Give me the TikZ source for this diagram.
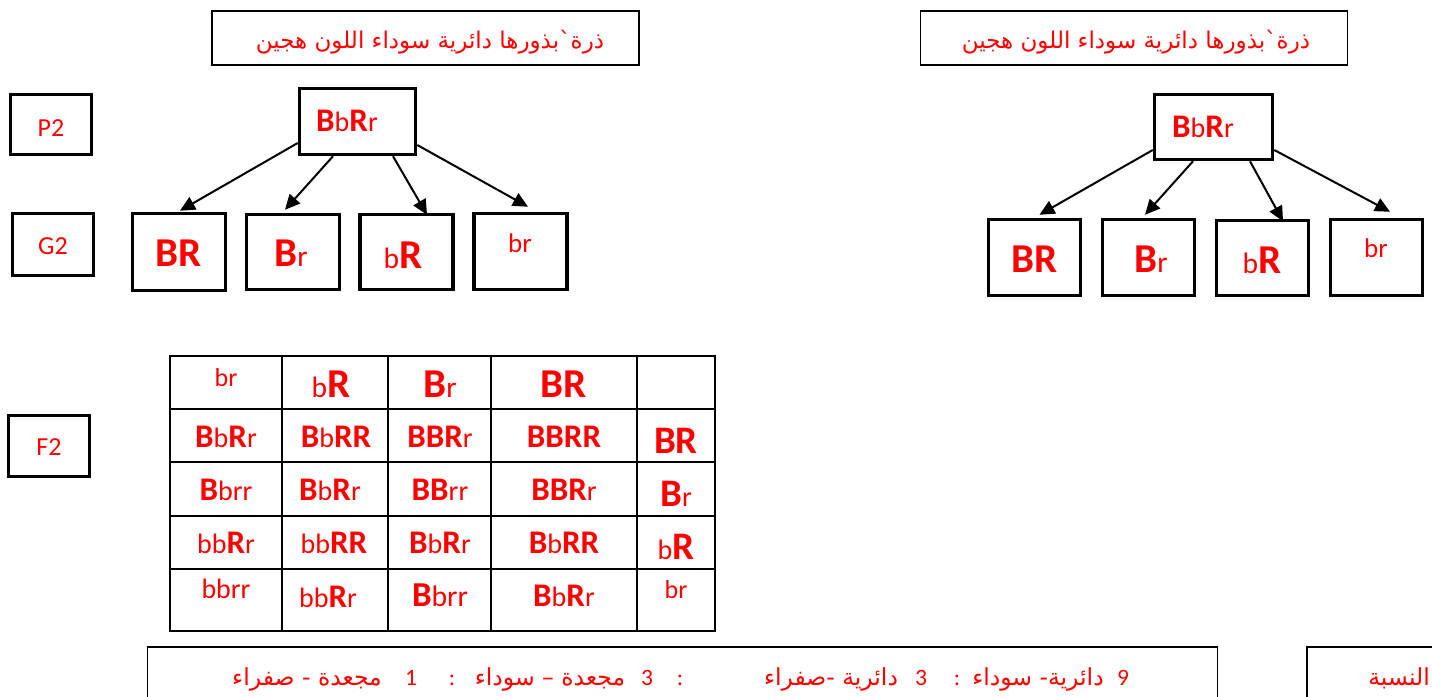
\documentclass[tikz,border=0pt]{standalone}
\usepackage{fontspec}
\setmainfont{Carlito}
\newfontfamily\arabicfont[Script=Arabic]{DejaVu Sans}
\TeXXeTstate=1
\usetikzlibrary{arrows.meta,calc}
\definecolor{tred}{RGB}{255,0,0}
\newcommand\fsz[1]{\fontsize{#1}{#1}\selectfont}
\newcommand\lcA[1]{\scalebox{0.85}{#1}}
\newcommand\lcB[1]{\scalebox{0.72}{#1}}
\newcommand\BB[1]{\textbf{#1}}
\begin{document}
\begin{tikzpicture}[x=1pt,y=-1pt,
 box/.style={draw=black,line width=3.5pt,inner sep=0pt},
 abox/.style={draw=black,line width=1.8pt,inner sep=0pt},
 txt/.style={text=tred,inner sep=0pt,anchor=base},
 atxt/.style={text=tred,inner sep=0pt,anchor=base,font=\arabicfont\fsz{23.5}},
 dtxt/.style={text=tred,inner sep=0pt,anchor=base,font=\fsz{23.5}},
 tline/.style={draw=black,line width=2pt,line cap=rect},
 arr/.style={draw=black,line width=2pt,-{Triangle[length=15pt,width=14pt]}}]
\useasboundingbox (0,0) rectangle (1432,696);
\clip (0,0) rectangle (1432,696);

% top title boxes
\node[abox,minimum width=427,minimum height=54] (tL) at (425.5,38) {};
\node[atxt,font=\arabicfont\fsz{23}] (tLt) at (430,48) {\beginR ذرة`بذورها دائرية سوداء اللون هجين\endR};
\node[abox,minimum width=427,minimum height=54] (tR) at (1134,38) {};
\node[atxt,font=\arabicfont\fsz{23}] (tRt) at (1136,48) {\beginR ذرة`بذورها دائرية سوداء اللون هجين\endR};

% generation labels
\node[box,minimum width=81,minimum height=60] (P2) at (51,124.5) {};
\node[txt,font=\fsz{26}] (P2t) at (51,136) {P2};
\node[box,minimum width=81,minimum height=62] (G2) at (53,244.5) {};
\node[txt,font=\fsz{26}] (G2t) at (53,254) {G2};
\node[box,minimum width=81,minimum height=61] (F2) at (49,446) {};
\node[txt,font=\fsz{26}] (F2t) at (49,455) {F2};

% left tree
\node[box,minimum width=116,minimum height=66] (pL) at (357.5,121.5) {};
\node[txt,font=\fsz{33}] (pLt) at (347,131) {\BB{B}\lcA{b}\BB{R}\lcA{r}};
\node[box,minimum width=93,minimum height=77] (gL1) at (179,252) {};
\node[txt,font=\fsz{41}] (gL1t) at (179,266) {\BB{BR}};
\node[box,minimum width=93,minimum height=75] (gL2) at (293,252) {};
\node[txt,font=\fsz{41}] (gL2t) at (291,266) {\BB{B}\lcB{r}};
\node[box,minimum width=93,minimum height=75] (gL3) at (406.5,252) {};
\node[txt,font=\fsz{41}] (gL3t) at (403,268) {\lcB{b}\BB{R}};
\node[box,minimum width=93,minimum height=76] (gL4) at (520.5,251.5) {};
\node[txt,font=\fsz{27}] (gL4t) at (520,252) {br};

\draw[arr] ($(pL.west)+(0,21.5)$) -- ($(gL1.north)+(1,-1)$);
\draw[arr] ($(pL.south)+(-24.5,0)$) -- ($(gL2.north)+(-8,-3)$);
\draw[arr] ($(pL.south)+(35.5,0)$) -- ($(gL3.north)+(20.5,2)$);
\draw[arr] ($(pL.east)+(0,23.5)$) -- ($(gL4.north)+(7.5,-5)$);

% right tree
\node[box,minimum width=118,minimum height=65] (pR) at (1213.5,127) {};
\node[txt,font=\fsz{33}] (pRt) at (1203,137) {\BB{B}\lcA{b}\BB{R}\lcA{r}};
\node[box,minimum width=92,minimum height=76] (gR1) at (1034.5,257.5) {};
\node[txt,font=\fsz{41}] (gR1t) at (1034.5,272) {\BB{BR}};
\node[box,minimum width=92,minimum height=76] (gR2) at (1148.5,257.5) {};
\node[txt,font=\fsz{41}] (gR2t) at (1151,272) {\BB{B}\lcB{r}};
\node[box,minimum width=92,minimum height=75] (gR3) at (1262.5,258) {};
\node[txt,font=\fsz{41}] (gR3t) at (1262,273) {\lcB{b}\BB{R}};
\node[box,minimum width=92,minimum height=76] (gR4) at (1376.5,257.5) {};
\node[txt,font=\fsz{27}] (gR4t) at (1376,257) {br};

\draw[arr] ($(pR.west)+(0,23)$) -- ($(gR1.north)+(5,-3)$);
\draw[arr] ($(pR.south)+(-20.5,0)$) -- ($(gR2.north)+(-3.5,-3)$);
\draw[arr] ($(pR.south)+(36.5,0)$) -- ($(gR3.north)+(20.5,2.5)$);
\draw[arr] ($(pR.east)+(0,23)$) -- ($(gR4.north)+(13.5,-6)$);

% Punnett square
\foreach \x in {170,282,388,491,637,715} \draw[tline] (\x,356) -- (\x,631);
\foreach \y in {356,409,462,516,569,631} \draw[tline] (170,\y) -- (715,\y);

% header row
\node[txt,font=\fsz{26}] (h1) at (226,386) {br};
\node[txt,font=\fsz{41}] (h2) at (331,397) {\lcB{b}\BB{R}};
\node[txt,font=\fsz{41}] (h3) at (440,397) {\BB{B}\lcB{r}};
\node[txt,font=\fsz{41}] (h4) at (564,397) {\BB{BR}};
% row 2
\node[txt,font=\fsz{33}] (c21) at (226,447) {\BB{B}\lcA{b}\BB{R}\lcA{r}};
\node[txt,font=\fsz{33}] (c22) at (336,447) {\BB{B}\lcA{b}\BB{RR}};
\node[txt,font=\fsz{33}] (c23) at (440,447) {\BB{BBR}\lcA{r}};
\node[txt,font=\fsz{33}] (c24) at (564,447) {\BB{BBRR}};
\node[txt,font=\fsz{39}] (c25) at (676,453) {\BB{BR}};
% row 3
\node[txt,font=\fsz{33}] (c31) at (226,500) {\BB{B}\lcA{brr}};
\node[txt,font=\fsz{33}] (c32) at (330,500) {\BB{B}\lcA{b}\BB{R}\lcA{r}};
\node[txt,font=\fsz{33}] (c33) at (440,500) {\BB{BB}\lcA{rr}};
\node[txt,font=\fsz{33}] (c34) at (564,500) {\BB{BBR}\lcA{r}};
\node[txt,font=\fsz{39}] (c35) at (676,506) {\BB{B}\lcB{r}};
% row 4
\node[txt,font=\fsz{33}] (c41) at (226,553) {\lcA{bb}\BB{R}\lcA{r}};
\node[txt,font=\fsz{33}] (c42) at (334,553) {\lcA{bb}\BB{RR}};
\node[txt,font=\fsz{33}] (c43) at (440,553) {\BB{B}\lcA{b}\BB{R}\lcA{r}};
\node[txt,font=\fsz{33}] (c44) at (564,553) {\BB{B}\lcA{b}\BB{RR}};
\node[txt,font=\fsz{39}] (c45) at (676,559) {\lcB{b}\BB{R}};
% row 5
\node[txt,font=\fsz{28}] (c51) at (226,598) {bbrr};
\node[txt,font=\fsz{33}] (c52) at (328,607) {\lcA{bb}\BB{R}\lcA{r}};
\node[txt,font=\fsz{35}] (c53) at (440,606) {\BB{B}\lcA{brr}};
\node[txt,font=\fsz{33}] (c54) at (564,606) {\BB{B}\lcA{b}\BB{R}\lcA{r}};
\node[txt,font=\fsz{26}] (c55) at (676,598) {br};

% bottom ratio box
\node[abox,minimum width=1070,minimum height=80] (bot) at (682.5,687) {};
\node[dtxt] (b1) at (1123,685) {9};
\node[atxt] (b2) at (1038,685) {\beginR دائرية- سوداء\endR};
\node[dtxt] (b3) at (957,685) {:};
\node[dtxt] (b4) at (921,685) {3};
\node[atxt] (b5) at (831,685) {\beginR دائرية -صفراء\endR};
\node[dtxt] (b6) at (680,685) {:};
\node[dtxt] (b7) at (647,685) {3};
\node[atxt] (b8) at (550,685) {\beginR مجعدة – سوداء\endR};
\node[dtxt] (b9) at (452,685) {:};
\node[dtxt] (b10) at (411,685) {1};
\node[atxt] (b11) at (307,685) {\beginR مجعدة - صفراء\endR};

\node[abox,minimum width=150,minimum height=80] (ratio) at (1382,687) {};
\node[atxt,anchor=base east] (ratiot) at (1430,685) {\beginR النسبة\endR};
\end{tikzpicture}
\end{document}
